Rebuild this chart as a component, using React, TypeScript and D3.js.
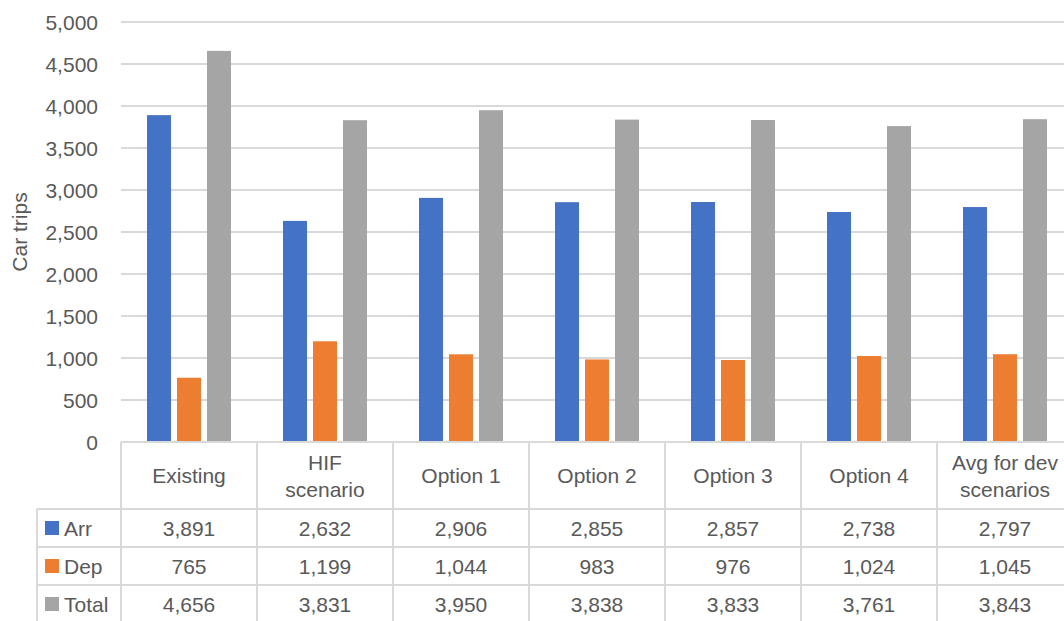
import React from "react";
import * as d3 from "d3";

const categories = ["Existing", "HIF scenario", "Option 1", "Option 2", "Option 3", "Option 4", "Avg for dev scenarios"];
const categoryLines = [["Existing"], ["HIF", "scenario"], ["Option 1"], ["Option 2"], ["Option 3"], ["Option 4"], ["Avg for dev", "scenarios"]];
const seriesNames = ["Arr", "Dep", "Total"];
const arrValues = [3891, 2632, 2906, 2855, 2857, 2738, 2797];
const depValues = [765, 1199, 1044, 983, 976, 1024, 1045];
const totalValues = [4656, 3831, 3950, 3838, 3833, 3761, 3843];
const yTicks = [0, 500, 1000, 1500, 2000, 2500, 3000, 3500, 4000, 4500, 5000];
const colors = ["#4472C4", "#ED7D31", "#A5A5A5"];

const W = 1064;
const H = 621;
const FONT = "'Liberation Sans', Arial, sans-serif";
const FS = 21;
const TEXT = "#595959";
const GRID = "#d9d9d9";

export default function App() {
  const series = [arrValues, depValues, totalValues];
  const plotLeft = 121;
  const bandW = 136;
  const plotRight = plotLeft + bandW * categories.length;
  const y = d3.scaleLinear().domain([0, 5000]).range([442, 22]);
  const x = d3.scaleBand<string>().domain(categories).range([plotLeft, plotRight]).paddingInner(0).paddingOuter(0);
  const inner = d3.scaleBand<string>().domain(seriesNames).range([26, bandW - 26]).paddingInner(0.2).paddingOuter(0);
  const fmt = d3.format(",");

  const tableTop = y(0);
  const headerBottom = 509;
  const rowH = 38;
  const legendLeft = 37;
  const rowTops = seriesNames.map((_, i) => headerBottom + i * rowH);
  const tableBottom = headerBottom + rowH * seriesNames.length;

  return (
    <svg width={W} height={H} style={{ position: "absolute", left: 0, top: 0, background: "#fff" }} fontFamily={FONT}>
      {yTicks.filter((t) => t > 0).map((t) => (
        <line key={t} x1={plotLeft} x2={plotRight} y1={y(t)} y2={y(t)} stroke={GRID} strokeWidth={2} />
      ))}
      {yTicks.map((t) => (
        <text key={t} x={98} y={y(t)} dy="0.36em" textAnchor="end" fontSize={FS} fill={TEXT}>
          {fmt(t)}
        </text>
      ))}
      <text transform={`translate(27,${(y(0) + y(5000)) / 2}) rotate(-90)`} textAnchor="middle" fontSize={FS} fill={TEXT}>
        Car trips
      </text>
      {categories.map((c, ci) => (
        <g key={c} transform={`translate(${x(c)},0)`}>
          {series.map((vals, si) => (
            <rect
              key={si}
              x={inner(seriesNames[si])}
              width={inner.bandwidth()}
              y={y(vals[ci])}
              height={y(0) - y(vals[ci])}
              fill={colors[si]}
            />
          ))}
        </g>
      ))}
      <g stroke={GRID} strokeWidth={2}>
        <line x1={plotLeft} x2={plotRight} y1={tableTop} y2={tableTop} />
        {rowTops.map((ry, i) => (
          <line key={i} x1={legendLeft} x2={plotRight} y1={ry} y2={ry} />
        ))}
        <line x1={legendLeft} x2={plotRight} y1={tableBottom} y2={tableBottom} />
        <line x1={legendLeft} x2={legendLeft} y1={headerBottom} y2={tableBottom} />
        {categories.map((c) => (
          <line key={c} x1={x(c)} x2={x(c)} y1={tableTop} y2={tableBottom} />
        ))}
        <line x1={plotRight} x2={plotRight} y1={tableTop} y2={tableBottom} />
      </g>
      {categories.map((c, ci) => {
        const lines = categoryLines[ci];
        const cy = (tableTop + headerBottom) / 2;
        const lh = 27;
        return (
          <text key={c} textAnchor="middle" fontSize={FS} fill={TEXT}>
            {lines.map((l, li) => (
              <tspan key={li} x={(x(c) as number) + bandW / 2} y={cy + (li - (lines.length - 1) / 2) * lh} dy="0.36em">
                {l}
              </tspan>
            ))}
          </text>
        );
      })}
      {seriesNames.map((s, si) => {
        const cy = rowTops[si] + rowH / 2;
        return (
          <g key={s}>
            <rect x={45} y={cy - 7} width={14} height={14} fill={colors[si]} />
            <text x={64} y={cy} dy="0.36em" fontSize={FS} fill={TEXT}>
              {s}
            </text>
            {categories.map((c, ci) => (
              <text key={c} x={(x(c) as number) + bandW / 2} y={cy} dy="0.36em" textAnchor="middle" fontSize={FS} fill={TEXT}>
                {fmt(series[si][ci])}
              </text>
            ))}
          </g>
        );
      })}
    </svg>
  );
}
